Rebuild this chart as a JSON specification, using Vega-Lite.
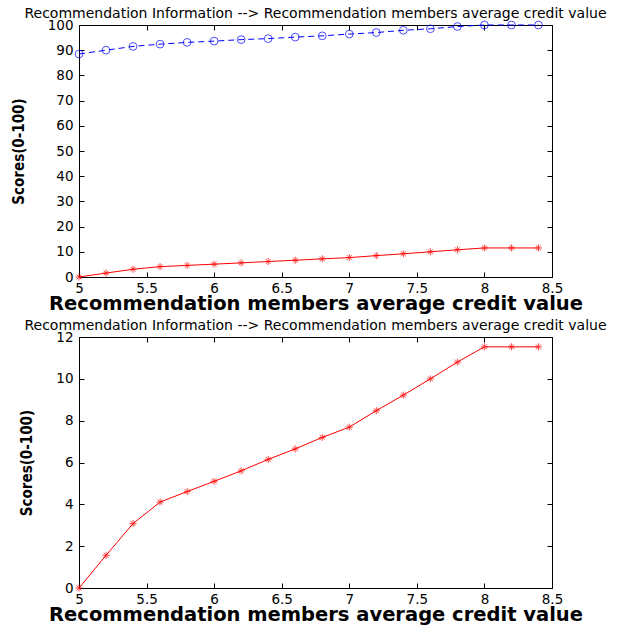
{
  "$schema": "https://vega.github.io/schema/vega-lite/v6.json",
  "background": "white",
  "padding": {"left": 10, "top": 6, "right": 5, "bottom": 0},
  "spacing": 4,
  "datasets": {
    "scores": [
      {"credit": 5.0, "blue": 88.5, "red": 0},
      {"credit": 5.2, "blue": 90.0, "red": 1.56},
      {"credit": 5.4, "blue": 91.5, "red": 3.08},
      {"credit": 5.6, "blue": 92.4, "red": 4.11},
      {"credit": 5.8, "blue": 93.1, "red": 4.61},
      {"credit": 6.0, "blue": 93.6, "red": 5.10},
      {"credit": 6.2, "blue": 94.2, "red": 5.6},
      {"credit": 6.4, "blue": 94.6, "red": 6.15},
      {"credit": 6.6, "blue": 95.2, "red": 6.65},
      {"credit": 6.8, "blue": 95.7, "red": 7.2},
      {"credit": 7.0, "blue": 96.4, "red": 7.69},
      {"credit": 7.2, "blue": 97.0, "red": 8.48},
      {"credit": 7.4, "blue": 97.9, "red": 9.22},
      {"credit": 7.6, "blue": 98.5, "red": 10.0},
      {"credit": 7.8, "blue": 99.4, "red": 10.8},
      {"credit": 8.0, "blue": 100, "red": 11.53},
      {"credit": 8.2, "blue": 100, "red": 11.53},
      {"credit": 8.4, "blue": 100, "red": 11.53}
    ]
  },
  "config": {
    "font": "DejaVu Sans",
    "view": {"stroke": "black", "strokeWidth": 1},
    "title": {"font": "DejaVu Sans", "fontSize": 14, "fontWeight": "normal", "color": "black", "offset": -3, "anchor": "middle"},
    "axis": {
      "domainColor": "black",
      "tickColor": "black",
      "grid": false,
      "labelFont": "DejaVu Sans",
      "labelFontSize": 13.5,
      "labelColor": "black",
      "titleFont": "DejaVu Sans",
      "titleColor": "black",
      "titleFontWeight": "bold",
      "tickSize": -5
    },
    "axisX": {"labelPadding": 9},
    "axisY": {"labelPadding": 11}
  },
  "vconcat": [
    {
      "title": "Recommendation Information --> Recommendation members average credit value",
      "width": 473,
      "height": 252,
      "data": {"name": "scores"},
      "resolve": {"axis": {"x": "independent", "y": "independent"}},
      "layer": [
        {
          "mark": {"type": "line", "color": "blue", "strokeDash": [6, 4], "strokeWidth": 1},
          "encoding": {
            "x": {"field": "credit", "type": "quantitative", "scale": {"domain": [5, 8.5]},
              "axis": {"values": [5, 5.5, 6, 6.5, 7, 7.5, 8, 8.5], "format": "~g", "title": "Recommendation members average credit value", "titleFontSize": 19.5, "titlePadding": 0, "labelFlush": false}},
            "y": {"field": "blue", "type": "quantitative", "scale": {"domain": [0, 100]},
              "axis": {"values": [0, 10, 20, 30, 40, 50, 60, 70, 80, 90, 100], "title": "Scores(0-100)", "titleFont": "DejaVu Sans Condensed", "titleFontSize": 15, "titlePadding": 21, "labelFlush": false}}
          }
        },
        {
          "mark": {"type": "point", "color": "blue", "filled": false, "size": 60, "strokeWidth": 1},
          "encoding": {
            "x": {"field": "credit", "type": "quantitative", "axis": null},
            "y": {"field": "blue", "type": "quantitative", "axis": null}
          }
        },
        {
          "mark": {"type": "line", "color": "red", "strokeWidth": 1},
          "encoding": {
            "x": {"field": "credit", "type": "quantitative", "axis": null},
            "y": {"field": "red", "type": "quantitative", "axis": null}
          }
        },
        {
          "mark": {"type": "point", "color": "red", "filled": false, "size": 50, "strokeWidth": 1,
            "shape": "M-1,0L1,0M0,-1L0,1M-0.7,-0.7L0.7,0.7M-0.7,0.7L0.7,-0.7"},
          "encoding": {
            "x": {"field": "credit", "type": "quantitative",
              "axis": {"orient": "top", "values": [5, 5.5, 6, 6.5, 7, 7.5, 8, 8.5], "labels": false, "title": null, "domain": false}},
            "y": {"field": "red", "type": "quantitative",
              "axis": {"orient": "right", "values": [0, 10, 20, 30, 40, 50, 60, 70, 80, 90, 100], "labels": false, "title": null, "domain": false}}
          }
        }
      ]
    },
    {
      "title": "Recommendation Information --> Recommendation members average credit value",
      "width": 473,
      "height": 251,
      "data": {"name": "scores"},
      "resolve": {"axis": {"x": "independent", "y": "independent"}},
      "layer": [
        {
          "mark": {"type": "line", "color": "red", "strokeWidth": 1},
          "encoding": {
            "x": {"field": "credit", "type": "quantitative", "scale": {"domain": [5, 8.5]},
              "axis": {"values": [5, 5.5, 6, 6.5, 7, 7.5, 8, 8.5], "format": "~g", "title": "Recommendation members average credit value", "titleFontSize": 19.5, "titlePadding": 0, "labelFlush": false}},
            "y": {"field": "red", "type": "quantitative", "scale": {"domain": [0, 12]},
              "axis": {"values": [0, 2, 4, 6, 8, 10, 12], "title": "Scores(0-100)", "titleFont": "DejaVu Sans Condensed", "titleFontSize": 15, "titlePadding": 21, "labelFlush": false}}
          }
        },
        {
          "mark": {"type": "point", "color": "red", "filled": false, "size": 50, "strokeWidth": 1,
            "shape": "M-1,0L1,0M0,-1L0,1M-0.7,-0.7L0.7,0.7M-0.7,0.7L0.7,-0.7"},
          "encoding": {
            "x": {"field": "credit", "type": "quantitative",
              "axis": {"orient": "top", "values": [5, 5.5, 6, 6.5, 7, 7.5, 8, 8.5], "labels": false, "title": null, "domain": false}},
            "y": {"field": "red", "type": "quantitative",
              "axis": {"orient": "right", "values": [0, 2, 4, 6, 8, 10, 12], "labels": false, "title": null, "domain": false}}
          }
        }
      ]
    }
  ]
}
